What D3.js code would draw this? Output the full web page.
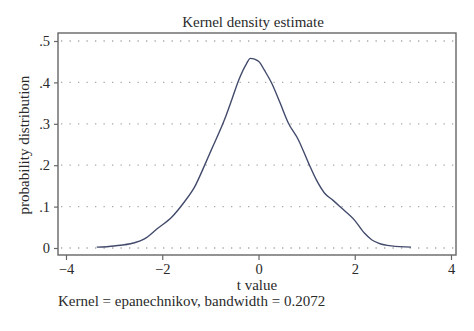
<!DOCTYPE html>
<html>
<head>
<meta charset="utf-8">
<script src="https://cdn.jsdelivr.net/npm/d3@7/dist/d3.min.js"></script>
<style>
  html, body { margin: 0; padding: 0; background: #fff; }
  svg { display: block; }
  text { font-family: "Liberation Serif", "DejaVu Serif", serif; fill: #2a2a2a; }
</style>
</head>
<body>
<svg id="chart" width="474" height="331"></svg>
<script>
// Kernel density estimate of t values (epanechnikov kernel)
const tValues = [-3.36, -3.0, -2.6, -2.37, -2.1, -1.8, -1.55, -1.33, -1.1, -0.98,
  -0.71, -0.55, -0.41, -0.25, -0.17, -0.08, 0.02, 0.12, 0.27, 0.45, 0.62, 0.83,
  1.04, 1.2, 1.37, 1.55, 1.72, 1.99, 2.2, 2.35, 2.49, 2.76, 3.17];
const density = [0.002, 0.005, 0.012, 0.022, 0.047, 0.075, 0.110, 0.147, 0.205, 0.237,
  0.309, 0.360, 0.406, 0.445, 0.458, 0.456, 0.449, 0.430, 0.399, 0.350, 0.302, 0.261,
  0.205, 0.165, 0.133, 0.115, 0.097, 0.068, 0.036, 0.020, 0.012, 0.005, 0.002];
const xTicks = [-4, -2, 0, 2, 4];
const yTicks = [0, 0.1, 0.2, 0.3, 0.4, 0.5];
const yTickLabels = ["0", ".1", ".2", ".3", ".4", ".5"];

const svg = d3.select("#chart");
const box = { left: 58, right: 456, top: 33, bottom: 255 };

const x = d3.scaleLinear().domain([-4, 4]).range([66, 451]);
const y = d3.scaleLinear().domain([0, 0.5]).range([248, 41]);

// dotted horizontal grid
svg.append("g").selectAll("line").data(yTicks).join("line")
  .attr("x1", box.left + 3).attr("x2", box.right - 2)
  .attr("y1", d => y(d)).attr("y2", d => y(d))
  .attr("stroke", "#a8a8a8").attr("stroke-width", 1.3)
  .attr("stroke-dasharray", "1.3,7.2");

// plot frame
svg.append("rect")
  .attr("x", box.left).attr("y", box.top)
  .attr("width", box.right - box.left).attr("height", box.bottom - box.top)
  .attr("fill", "none").attr("stroke", "#666").attr("stroke-width", 1.4);

// x axis
const xAxis = svg.append("g")
  .attr("transform", `translate(0,${box.bottom})`)
  .call(d3.axisBottom(x).tickValues(xTicks).tickSize(5).tickPadding(4)
    .tickFormat(d => d3.format("d")(d).replace("-", "\u2212")));
xAxis.select(".domain").remove();
xAxis.selectAll("line").attr("stroke", "#666").attr("stroke-width", 1.2);
xAxis.selectAll("text").attr("font-size", 14.5).attr("fill", "#2a2a2a")
  .attr("font-family", "Liberation Serif, serif");

// y axis
const yAxis = svg.append("g")
  .attr("transform", `translate(${box.left},0)`)
  .call(d3.axisLeft(y).tickValues(yTicks).tickSize(4).tickPadding(4)
    .tickFormat((d, i) => yTickLabels[i]));
yAxis.select(".domain").remove();
yAxis.selectAll("line").attr("stroke", "#666").attr("stroke-width", 1.2);
yAxis.selectAll("text").attr("font-size", 14.5).attr("fill", "#2a2a2a")
  .attr("font-family", "Liberation Serif, serif");

// density curve
const line = d3.line()
  .x((d, i) => x(tValues[i]))
  .y(d => y(d))
  .curve(d3.curveMonotoneX);
svg.append("path")
  .datum(density)
  .attr("d", line)
  .attr("fill", "none")
  .attr("stroke", "#434b6c")
  .attr("stroke-width", 1.4);

// titles
svg.append("text").attr("x", 253).attr("y", 27).attr("text-anchor", "middle")
  .attr("font-size", 15).text("Kernel density estimate");
svg.append("text").attr("x", 257).attr("y", 290).attr("text-anchor", "middle")
  .attr("font-size", 15).text("t value");
svg.append("text").attr("transform", "translate(29,145) rotate(-90)")
  .attr("text-anchor", "middle").attr("font-size", 15)
  .text("probability distribution");
svg.append("text").attr("x", 58).attr("y", 306)
  .attr("font-size", 15).text("Kernel = epanechnikov, bandwidth = 0.2072");
</script>
</body>
</html>
